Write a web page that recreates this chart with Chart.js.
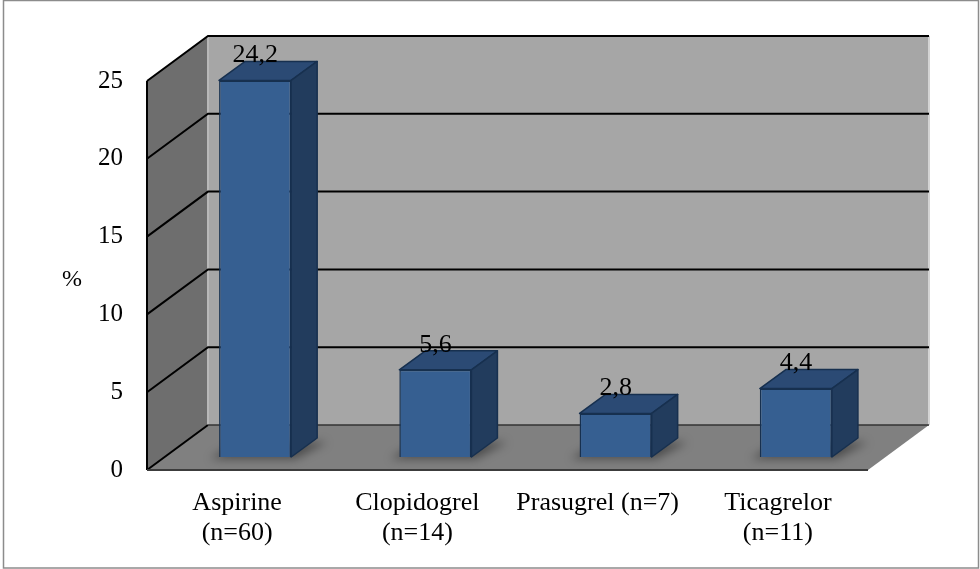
<!DOCTYPE html>
<html>
<head>
<meta charset="utf-8">
<script src="https://cdn.jsdelivr.net/npm/chart.js@4.4.0/dist/chart.umd.min.js"></script>
<style>
    html, body { margin: 0; padding: 0; background: #fff; }
    #wrap { width: 980px; height: 569px; }
</style>
</head>
<body>
<div id="wrap"><canvas id="chartAntiplaquettaires" width="980" height="569"></canvas></div>
<script>
const categories = [['Aspirine', '(n=60)'], ['Clopidogrel', '(n=14)'], 'Prasugrel (n=7)', ['Ticagrelor', '(n=11)']];
const percentValues = [24.2, 5.6, 2.8, 4.4];
const valueLabels = ['24,2', '5,6', '2,8', '4,4'];
const yTicks = [0, 5, 10, 15, 20, 25];
const yTitle = '%';

const serif = '"Liberation Serif", "Times New Roman", serif';
const depth = { dx: 61, dy: 45 };     // walls
const barShift = { dx: 18, dy: 13 };  // bar plane from the front plane
const barDepth = { dx: 26, dy: 19 };

// walls, floor and gridlines, drawn from the scales
const walls3d = {
    id: 'walls3d',
    beforeDatasetsDraw(chart) {
        const ctx = chart.ctx;
        const area = chart.chartArea;
        const y = chart.scales.y;
        const L = area.left, R = area.right;
        const yTop = y.getPixelForValue(yTicks[yTicks.length - 1]);
        const yBot = y.getPixelForValue(0);
        ctx.save();

        // left wall
        ctx.fillStyle = '#6e6e6e';
        ctx.beginPath();
        ctx.moveTo(L, yTop);
        ctx.lineTo(L + depth.dx, yTop - depth.dy);
        ctx.lineTo(L + depth.dx, yBot - depth.dy);
        ctx.lineTo(L, yBot);
        ctx.closePath();
        ctx.fill();

        // back wall
        ctx.fillStyle = '#a6a6a6';
        ctx.fillRect(L + depth.dx, yTop - depth.dy, R - L, yBot - yTop);

        // floor
        ctx.fillStyle = '#808080';
        ctx.beginPath();
        ctx.moveTo(L, yBot);
        ctx.lineTo(R, yBot);
        ctx.lineTo(R + depth.dx, yBot - depth.dy);
        ctx.lineTo(L + depth.dx, yBot - depth.dy);
        ctx.closePath();
        ctx.fill();

        // wall corner and right edge
        ctx.strokeStyle = '#b8b8b8';
        ctx.lineWidth = 2;
        ctx.beginPath();
        ctx.moveTo(L + depth.dx, yTop - depth.dy);
        ctx.lineTo(L + depth.dx, yBot - depth.dy);
        ctx.stroke();
        ctx.strokeStyle = '#d4d4d4';
        ctx.beginPath();
        ctx.moveTo(R + depth.dx, yTop - depth.dy);
        ctx.lineTo(R + depth.dx, yBot - depth.dy);
        ctx.stroke();

        // gridlines
        yTicks.forEach(v => {
            const py = y.getPixelForValue(v);
            ctx.strokeStyle = '#000';
            ctx.lineWidth = 2;
            ctx.beginPath();
            ctx.moveTo(L, py);
            ctx.lineTo(L + depth.dx, py - depth.dy);
            if (v !== 0) ctx.lineTo(R + depth.dx, py - depth.dy);
            ctx.stroke();
            if (v === 0) {
                ctx.strokeStyle = '#333';
                ctx.lineWidth = 1.5;
                ctx.beginPath();
                ctx.moveTo(L + depth.dx, py - depth.dy);
                ctx.lineTo(R + depth.dx, py - depth.dy);
                ctx.stroke();
            }
        });

        // front edges
        ctx.strokeStyle = '#000';
        ctx.lineWidth = 2;
        ctx.beginPath();
        ctx.moveTo(L, yTop);
        ctx.lineTo(L, yBot);
        ctx.stroke();
        ctx.strokeStyle = '#3c3c3c';
        ctx.lineWidth = 2;
        ctx.beginPath();
        ctx.moveTo(L, yBot);
        ctx.lineTo(R, yBot);
        ctx.stroke();

        ctx.restore();

        // move the bars back into their plane
        ctx.save();
        ctx.translate(barShift.dx, -barShift.dy);

        // soft shadows at the foot of each bar
        const meta = chart.getDatasetMeta(0);
        ctx.save();
        ctx.filter = 'blur(5px)';
        ctx.fillStyle = 'rgba(0,0,0,0.4)';
        meta.data.forEach(bar => {
            const x0 = bar.x - bar.width / 2, x1 = bar.x + bar.width / 2;
            ctx.beginPath();
            ctx.moveTo(x0 - 9, bar.base + 2);
            ctx.lineTo(x1 + 4, bar.base + 2);
            ctx.lineTo(x1 + barDepth.dx + 10, bar.base - barDepth.dy + 4);
            ctx.lineTo(x0 + barDepth.dx - 8, bar.base - barDepth.dy + 4);
            ctx.closePath();
            ctx.fill();
        });
        ctx.restore();
    },
    afterDatasetsDraw(chart) {
        const ctx = chart.ctx;
        const meta = chart.getDatasetMeta(0);
        meta.data.forEach(bar => {
            const x0 = bar.x - bar.width / 2, x1 = bar.x + bar.width / 2;
            const top = bar.y, base = bar.base;
            ctx.lineWidth = 1.5;
            ctx.strokeStyle = '#17304f';
            ctx.lineJoin = 'round';
            // top face
            ctx.fillStyle = '#2b4a74';
            ctx.beginPath();
            ctx.moveTo(x0, top);
            ctx.lineTo(x0 + barDepth.dx, top - barDepth.dy);
            ctx.lineTo(x1 + barDepth.dx, top - barDepth.dy);
            ctx.lineTo(x1, top);
            ctx.closePath();
            ctx.fill();
            ctx.stroke();
            // side face
            ctx.fillStyle = '#223c5d';
            ctx.beginPath();
            ctx.moveTo(x1, top);
            ctx.lineTo(x1 + barDepth.dx, top - barDepth.dy);
            ctx.lineTo(x1 + barDepth.dx, base - barDepth.dy);
            ctx.lineTo(x1, base);
            ctx.closePath();
            ctx.fill();
            ctx.stroke();
        });
        ctx.fillStyle = '#000';
        ctx.font = '26px ' + serif;
        ctx.textAlign = 'center';
        ctx.textBaseline = 'middle';
        meta.data.forEach((bar, i) => {
            ctx.fillText(valueLabels[i], bar.x, bar.y - 25);
        });
        ctx.restore();
    },
    afterDraw(chart) {
        const ctx = chart.ctx;
        ctx.save();
        ctx.fillStyle = '#000';
        ctx.font = '24px ' + serif;
        ctx.textAlign = 'center';
        ctx.textBaseline = 'middle';
        const y = chart.scales.y;
        ctx.fillText(yTitle, 72, (y.top + y.bottom) / 2 + 4);
        // outer frame
        ctx.strokeStyle = '#8c8c8c';
        ctx.lineWidth = 1.5;
        ctx.strokeRect(3.5, 0.5, 975, 567.5);
        ctx.restore();
    }
};

const ctx = document.getElementById('chartAntiplaquettaires').getContext('2d');
new Chart(ctx, {
    type: 'bar',
    data: {
        labels: categories,
        datasets: [{
            label: '%',
            data: percentValues,
            backgroundColor: '#365f91',
            borderColor: '#17304f',
            borderWidth: 1.5,
            barPercentage: 0.4,
            categoryPercentage: 1.0,
            clip: false
        }]
    },
    options: {
        responsive: false,
        animation: false,
        devicePixelRatio: 1,
        layout: { padding: { top: 81, right: 112, left: 0, bottom: 0 } },
        scales: {
            x: {
                grid: { display: false, drawTicks: false },
                border: { display: false },
                ticks: {
                    color: '#000',
                    padding: 18,
                    maxRotation: 0,
                    autoSkip: false,
                    font: { family: serif, size: 26, lineHeight: 1.15 }
                },
                afterFit(scale) { scale.height = 99; }
            },
            y: {
                min: 0,
                max: 25,
                grid: { display: false, drawTicks: false },
                border: { display: false },
                ticks: {
                    stepSize: 5,
                    color: '#000',
                    padding: 24,
                    font: { family: serif, size: 25 }
                },
                afterFit(scale) { scale.width = 147; }
            }
        },
        plugins: {
            legend: { display: false },
            tooltip: { enabled: false }
        }
    },
    plugins: [walls3d]
});
</script>
</body>
</html>
